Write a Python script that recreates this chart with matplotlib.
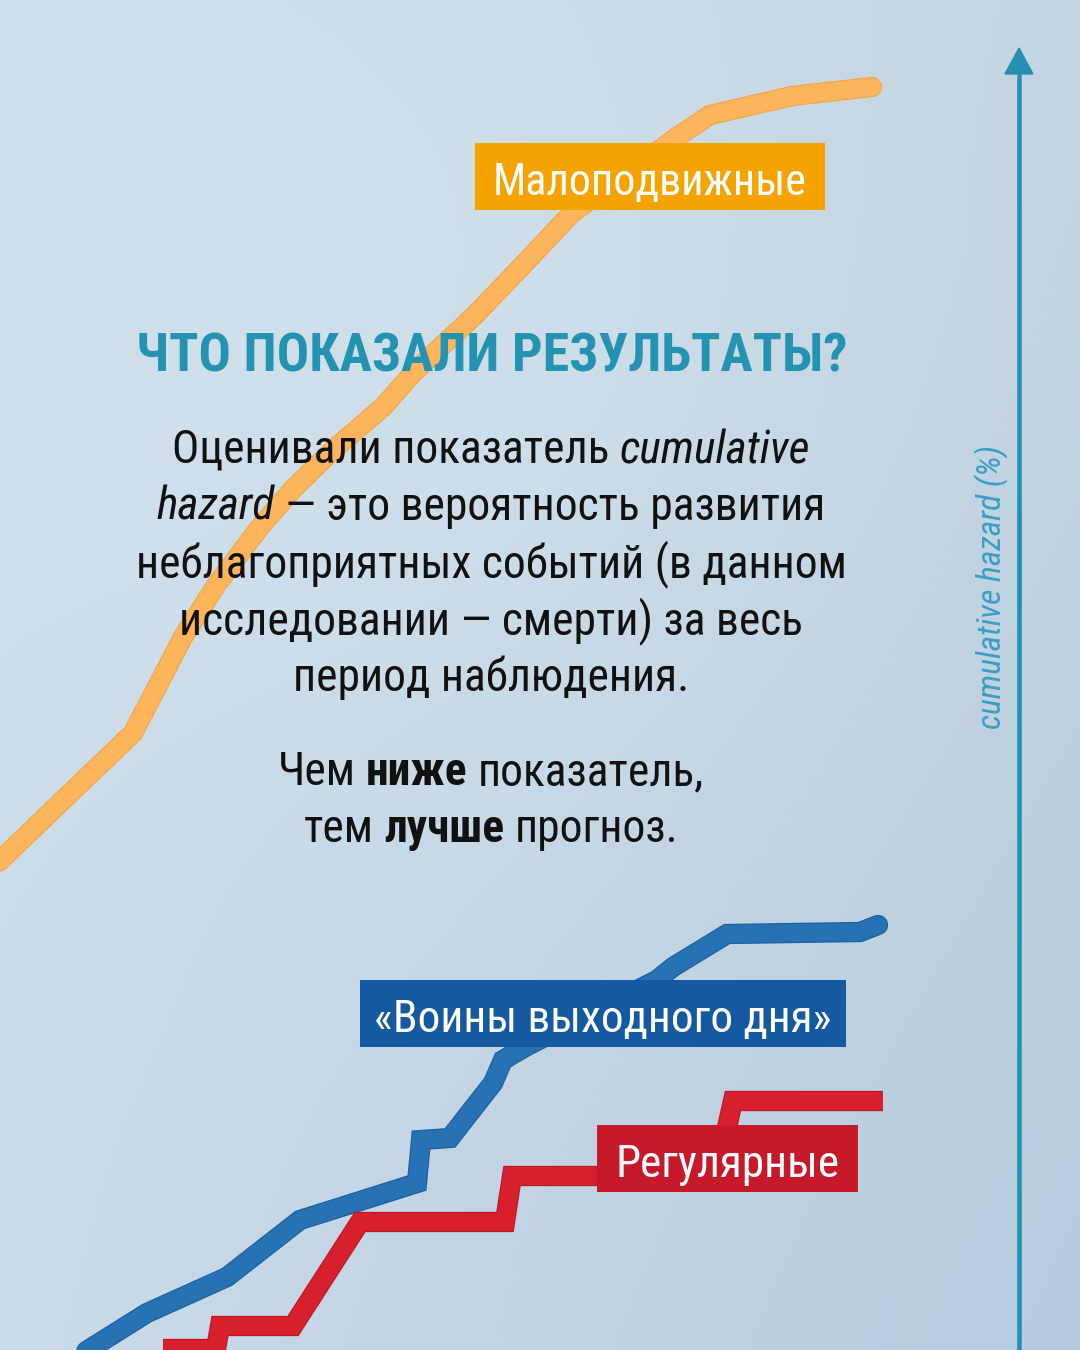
import matplotlib
matplotlib.use("Agg")
import numpy as np
import matplotlib.pyplot as plt
import matplotlib.patheffects as pe
from matplotlib import font_manager as fm
from matplotlib.patches import Rectangle, Polygon

# ---------------- data (chart units: x = follow-up, y = cumulative hazard) -------------
sed_x = [-20, 60, 133, 183, 217, 260, 293, 333, 383, 413, 475, 523, 572, 680, 710, 792, 872]
sed_y = [470, 547, 617, 713, 766, 823, 861, 900, 943, 977, 1035, 1085, 1137, 1215, 1235, 1254, 1263]

ww_x = [80, 147, 227, 300, 417, 421, 450, 493, 503, 527, 657, 673, 727, 860, 878]
ww_y = [-5, 37, 73, 130, 167, 210, 212, 267, 290, 304, 370, 383, 416, 418, 425]

reg_x = [163, 216, 220, 293, 360, 505, 512, 716, 733, 883]
reg_y = [1, 1, 24, 24, 128, 128, 174, 174, 249, 249]

series_names = ["Малоподвижные", "«Воины выходного дня»", "Регулярные"]
axis_label = "cumulative hazard (%)"
title = "ЧТО ПОКАЗАЛИ РЕЗУЛЬТАТЫ?"
body1 = [
    [("Оценивали показатель", ""), ("cumulative", "i")],
    [("hazard", "i"), ("— это вероятность развития", "")],
    [("неблагоприятных событий (в данном", "")],
    [("исследовании — смерти) за весь", "")],
    [("период наблюдения.", "")],
]
body2 = [
    [("Чем", ""), ("ниже", "b"), ("показатель,", "")],
    [("тем", ""), ("лучше", "b"), ("прогноз.", "")],
]

# ---------------- fonts -------------
names = {f.name for f in fm.fontManager.ttflist}
FONT = next(c for c in ["Liberation Sans Narrow", "Roboto Condensed", "Arial Narrow",
                        "Liberation Sans", "Roboto", "DejaVu Sans"] if c in names)
plt.rcParams["font.family"] = [FONT, "DejaVu Sans"]

W, H = 1080, 1350
fig = plt.figure(figsize=(W / 100, H / 100), dpi=100)
ax = fig.add_axes([0, 0, 1, 1])
ax.set_xlim(0, W)
ax.set_ylim(0, H)
ax.axis("off")

# ---------------- background gradient -------------
def hx(c):
    c = c.lstrip("#")
    return np.array([int(c[i:i + 2], 16) / 255 for i in (0, 2, 4)])

tl, tr, bl, br = hx("#CEDEEA"), hx("#C2D4E1"), hx("#CADBE9"), hx("#B6CBDE")
nx, ny = 216, 270
gx = np.linspace(0, 1, nx)[None, :, None]
gy = np.linspace(0, 1, ny)[:, None, None]
img = (1 - gy) * ((1 - gx) * tl + gx * tr) + gy * ((1 - gx) * bl + gx * br)
X, Y = np.meshgrid(np.linspace(0, W, nx), np.linspace(0, H, ny))
spot = np.exp(-(((X - 380) ** 2) + ((Y - 300) ** 2)) / (2 * 360 ** 2))[..., None]
img = img * (1 - 0.5 * spot) + hx("#D7E5EE") * 0.5 * spot
ax.imshow(img, extent=(0, W, 0, H), origin="upper", aspect="auto", zorder=0,
          interpolation="bicubic")
ax.set_xlim(0, W)
ax.set_ylim(0, H)

renderer = fig.canvas.get_renderer()

def tw(t):
    return t.get_window_extent(renderer).width

def fit(text, target, **kw):
    p = ax.text(0, 0, text, fontsize=30, **kw)
    s = 30 * target / tw(p)
    p.remove()
    return s

# ---------------- lines -------------
LW = 13
def draw(x, y, color, edge, cap, join):
    ax.plot(x, y, color=color, lw=LW, solid_capstyle=cap, solid_joinstyle=join, zorder=2,
            path_effects=[pe.Stroke(linewidth=LW + 1.6, foreground=edge), pe.Normal()])

draw(sed_x, sed_y, "#FDB55B", "#F2A545", "round", "round")
draw(ww_x, ww_y, "#2672B4", "#1C5E9E", "round", "miter")
draw(reg_x, reg_y, "#D81F2D", "#BC1723", "butt", "miter")

# ---------------- axis arrow -------------
AX_C = "#2690B2"
ax.plot([1019, 1019], [-5, 1280], color=AX_C, lw=3.3, zorder=3, solid_capstyle="butt")
ax.add_patch(Polygon([[1005, 1276], [1033, 1276], [1019, 1302]], closed=True, color=AX_C, zorder=3))
s_ax = fit(axis_label, 283, fontstyle="italic")
ax.text(992, 763, axis_label, rotation=90, ha="center", va="center", fontsize=s_ax,
        fontstyle="italic", color="#3A9EC2", zorder=3)

# ---------------- labels -------------
def label(x0, x1, y0, y1, text, fc, base, target):
    ax.add_patch(Rectangle((x0, y0), x1 - x0, y1 - y0, facecolor=fc, edgecolor="none", zorder=4))
    s = fit(text, target)
    ax.text((x0 + x1) / 2, base, text, ha="center", va="baseline", fontsize=s,
            color="white", zorder=5)

label(475, 825, 1140, 1207, series_names[0], "#F5A300", 1155, 313)
label(360, 846, 303, 370, series_names[1], "#1559A0", 318, 456)
label(597, 858, 158, 225, series_names[2], "#C8192B", 173, 224)

# ---------------- text block -------------
s_title = fit(title, 711, fontweight="bold")
ax.text(492, 979, title, ha="center", va="baseline", fontsize=s_title, fontweight="bold",
        color="#2393B1", zorder=6)

def rich_line(segs, xc, base, size):
    texts = []
    for s, st in segs:
        t = ax.text(0, base, s, fontsize=size, ha="left", va="baseline", color="#111111",
                    fontstyle="italic" if "i" in st else "normal",
                    fontweight="bold" if "b" in st else "normal", zorder=6)
        texts.append(t)
    probe1 = ax.text(0, 0, "x x", fontsize=size)
    probe2 = ax.text(0, 0, "xx", fontsize=size)
    sp = tw(probe1) - tw(probe2)
    probe1.remove(); probe2.remove()
    widths = [tw(t) for t in texts]
    total = sum(widths) + sp * (len(texts) - 1)
    x = xc - total / 2
    for t, w in zip(texts, widths):
        t.set_x(x)
        x += w + sp
    return total

BS = fit("неблагоприятных событий (в данном", 710)
for i, segs in enumerate(body1):
    rich_line(segs, 491, 887 - 57 * i, BS)
for i, segs in enumerate(body2):
    rich_line(segs, 491, 565 - 57 * i, BS)

fig.savefig("out.png", dpi=100)
